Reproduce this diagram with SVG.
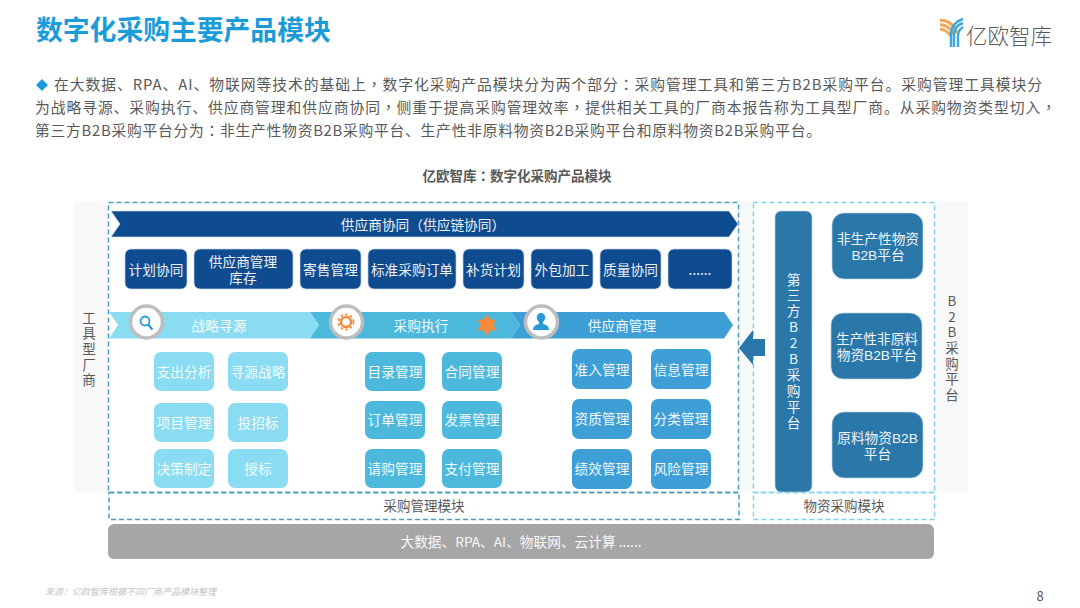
<svg xmlns="http://www.w3.org/2000/svg" width="1080" height="608" viewBox="0 0 1080 608">
<defs><style>
text{font-family:"Noto Sans CJK SC","Noto Sans",sans-serif;text-anchor:middle}
.w{fill:#fff;font-size:13.7px;opacity:.93}
.t{font-family:"Liberation Sans","Noto Sans CJK SC",sans-serif}
.u{font-family:"Noto Sans CJK TC",sans-serif}
.v{writing-mode:vertical-rl;text-orientation:upright;letter-spacing:2.200px}
.p{fill:#595959;font-size:14.800px;text-anchor:start}
.d{fill:none;stroke-width:1.5;stroke-dasharray:5 3}
.n{fill:#0f4c8f;stroke:#c5d5e6;stroke-width:.7}
.a{fill:#8adcf2}.b{fill:#4bb8dc}.c{fill:#3d9fd6}.e{fill:#2a77aa;stroke:#bcd3e2;stroke-width:.7}
.g{fill:#fff;stroke:#bdbdbd;stroke-width:3.5}
.l{fill:#595959;font-size:13.5px}
</style></defs>
<rect width="1080" height="608" fill="#fff"/>
<text x="36" y="40" style="text-anchor:start;font-size:26.8px;font-weight:700;fill:#1b9cd8">数字化采购主要产品模块</text>
<g id="logo"><path d="M940 20q13 1 17 13M940 24.500q10 1 14 10M940 29q7 1 11 7" fill="none" stroke="#f2a65a" stroke-width="3"/><path d="M963 19q-12 4-12 16v12M963 23q-9 3-9 12v12M963 27q-5 3-5 9v11" fill="none" stroke="#3fa9dc" stroke-width="2.500"/><text x="1009" y="44" style="font-size:21.5px;fill:#5a5a5a;font-weight:300">亿欧智库</text></g>
<path d="M42 79l6 6-6 6-6-6z" fill="#1b9cd8"/>
<text class="p" x="54" y="90" textLength="988" lengthAdjust="spacing">在大数据、RPA、AI、物联网等技术的基础上<tspan class="u">，</tspan>数字化采购产品模块分为两个部分<tspan class="u">：</tspan>采购管理工具和第三方B2B采购平台。采购管理工具模块分</text>
<text class="p" x="35" y="113" textLength="1021" lengthAdjust="spacing">为战略寻源、采购执行、供应商管理和供应商协同<tspan class="u">，</tspan>侧重于提高采购管理效率<tspan class="u">，</tspan>提供相关工具的厂商本报告称为工具型厂商。从采购物资类型切入<tspan class="u">，</tspan></text>
<text class="p" x="35" y="136" textLength="786" lengthAdjust="spacing">第三方B2B采购平台分为<tspan class="u">：</tspan>非生产性物资B2B采购平台、生产性非原料物资B2B采购平台和原料物资B2B采购平台。</text>
<text x="517" y="181" style="font-size:13.5px;font-weight:700;fill:#595959">亿欧智库<tspan class="u">：</tspan>数字化采购产品模块</text>
<rect x="74" y="202" width="894" height="290" fill="#f8f8f8"/>
<rect x="108" y="202" width="630" height="290" fill="#fff"/>
<rect x="753" y="202" width="181" height="290" fill="#fff"/>
<g id="frames">
<rect class="d" x="108.500" y="202.500" width="630" height="290" stroke="#4a9cc0"/>
<rect class="d" x="109" y="492.500" width="630" height="27" stroke="#4a9cc0"/>
<rect class="d" x="753.500" y="202.500" width="181" height="290" stroke="#7fd3ea"/>
<rect class="d" x="753.500" y="492.500" width="181" height="27" stroke="#7fd3ea"/>
</g>
<text class="l" x="424" y="511">采购管理模块</text><text class="l" x="844" y="511">物资采购模块</text>
<g id="n-base"><rect x="108" y="524" width="826" height="35" rx="6" fill="#a6a6a6"/><text class="w" x="521" y="547">大数据、RPA、AI、物联网、云计算 ......</text></g>
<g id="n-left"><text class="l v" x="89" y="350">工具型厂商</text></g>
<g id="n-right"><text class="l v" x="952" y="349">B2B采购平台</text></g>
<g id="n-banner"><path class="n" d="M111 211H729L738 224 729 237H111L120 224z"/><text class="w" x="423" y="230">供应商协同<tspan class="u">（</tspan>供应链协同<tspan class="u">）</tspan></text></g>
<g id="n-row1">
<rect class="n" x="125" y="249" width="62" height="40" rx="6"/><text class="w" x="156" y="275">计划协同</text>
<rect class="n" x="194" y="249" width="99" height="40" rx="6"/><text class="w t" x="243" y="267">供应商管理</text><text class="w t" x="243" y="283">库存</text>
<rect class="n" x="300" y="249" width="61" height="40" rx="6"/><text class="w" x="330.500" y="275">寄售管理</text>
<rect class="n" x="368" y="249" width="88" height="40" rx="6"/><text class="w" x="412" y="275">标准采购订单</text>
<rect class="n" x="463" y="249" width="61" height="40" rx="6"/><text class="w" x="493.500" y="275">补货计划</text>
<rect class="n" x="531" y="249" width="62" height="40" rx="6"/><text class="w" x="562" y="275">外包加工</text>
<rect class="n" x="600" y="249" width="61" height="40" rx="6"/><text class="w" x="630.500" y="275">质量协同</text>
<rect class="n" x="668" y="249" width="64" height="40" rx="6"/><text class="w" x="700" y="275">......</text>
</g>
<g id="n-chevrons">
<path class="a" d="M109 312H310L319 325 310 338.500H109L118 325z"/>
<path class="b" d="M310 312H511L520 325 511 338.500H310L319 325z"/>
<path class="c" d="M511 312H724L733 325 724 338.500H511L520 325z"/>
<text class="w" x="219" y="331">战略寻源</text><text class="w" x="421" y="331">采购执行</text><text class="w" x="622" y="331">供应商管理</text>
</g>
<g id="n-icons">
<circle class="g" cx="146.500" cy="322" r="16"/><circle cx="145" cy="321" r="4.500" fill="none" stroke="#2a9ad6" stroke-width="1.800"/><path d="M148 324.500l4.500 5" stroke="#2a9ad6" stroke-width="2.200"/>
<circle class="g" cx="346.500" cy="322" r="16"/><circle cx="346" cy="322" r="5" fill="none" stroke="#f58b3c" stroke-width="2.500"/><circle cx="346" cy="322" r="7.500" fill="none" stroke="#f58b3c" stroke-width="1.800" stroke-dasharray="2.500 2.400"/>
<circle class="g" cx="541.500" cy="322" r="16"/><path d="M533 330q0-5 6-6v-2q-3-3-2-6 1-3 4-3t4 3q1 3-2 6v2q6 1 6 6z" fill="#2a9ad6"/>
<path d="M487 314l3.200 5.500h6.300L493.300 325l3.200 5.500h-6.300L487 336l-3.200-5.500h-6.300l3.200-5.500-3.200-5.500h6.300z" fill="#f58b3c"/>
</g>
<g id="n-col1">
<rect class="a" x="154" y="352" width="60" height="39" rx="7"/><text class="w" x="184" y="377">支出分析</text>
<rect class="a" x="228" y="352" width="60" height="39" rx="7"/><text class="w" x="258" y="377">寻源战略</text>
<rect class="a" x="154" y="403" width="60" height="39" rx="7"/><text class="w" x="184" y="428">项目管理</text>
<rect class="a" x="228" y="403" width="60" height="39" rx="7"/><text class="w" x="258" y="428">投招标</text>
<rect class="a" x="154" y="449" width="60" height="39" rx="7"/><text class="w" x="184" y="474">决策制定</text>
<rect class="a" x="228" y="449" width="60" height="39" rx="7"/><text class="w" x="258" y="474">授标</text>
</g>
<g id="n-col2">
<rect class="b" x="365" y="352" width="60" height="39" rx="7"/><text class="w" x="395" y="377">目录管理</text>
<rect class="b" x="442" y="352" width="60" height="39" rx="7"/><text class="w" x="472" y="377">合同管理</text>
<rect class="b" x="365" y="401" width="60" height="38" rx="7"/><text class="w" x="395" y="425">订单管理</text>
<rect class="b" x="442" y="401" width="60" height="38" rx="7"/><text class="w" x="472" y="425">发票管理</text>
<rect class="b" x="365" y="449" width="60" height="39" rx="7"/><text class="w" x="395" y="474">请购管理</text>
<rect class="b" x="442" y="449" width="60" height="39" rx="7"/><text class="w" x="472" y="474">支付管理</text>
</g>
<g id="n-col3">
<rect class="c" x="572" y="349" width="60" height="40" rx="7"/><text class="w" x="602" y="375">准入管理</text>
<rect class="c" x="651" y="349" width="60" height="40" rx="7"/><text class="w" x="681" y="375">信息管理</text>
<rect class="c" x="572" y="399" width="60" height="40" rx="7"/><text class="w" x="602" y="424">资质管理</text>
<rect class="c" x="651" y="399" width="60" height="40" rx="7"/><text class="w" x="681" y="424">分类管理</text>
<rect class="c" x="572" y="449" width="60" height="40" rx="7"/><text class="w" x="602" y="474">绩效管理</text>
<rect class="c" x="651" y="449" width="60" height="40" rx="7"/><text class="w" x="681" y="474">风险管理</text>
</g>
<g id="n-platform"><rect class="e" x="775" y="211" width="37" height="281" rx="6"/><text class="w v" x="793.500" y="352">第三方B2B采购平台</text></g>
<g id="n-r1"><rect class="e" x="832" y="213" width="91" height="66" rx="12"/><text class="w t" x="878" y="244">非生产性物资</text><text class="w t" x="878" y="260">B2B平台</text></g>
<g id="n-r2"><rect class="e" x="831" y="313" width="91" height="66" rx="12"/><text class="w t" x="877" y="344">生产性非原料</text><text class="w t" x="877" y="360">物资B2B平台</text></g>
<g id="n-r3"><rect class="e" x="832" y="412" width="91" height="66" rx="12"/><text class="w t" x="877.500" y="443">原料物资B2B</text><text class="w t" x="877.500" y="459">平台</text></g>
<g id="connectors"><path d="M739 348L753 330V339H765V356H753V365z" fill="#2a77aa"/></g>
<text x="45" y="595" style="text-anchor:start;font-size:9px;font-style:italic;fill:#c4c4c4">来源：亿欧智库根据不同厂商产品模块整理</text>
<text x="1040" y="601" style="font-size:13px;fill:#595959">8</text>
</svg>
